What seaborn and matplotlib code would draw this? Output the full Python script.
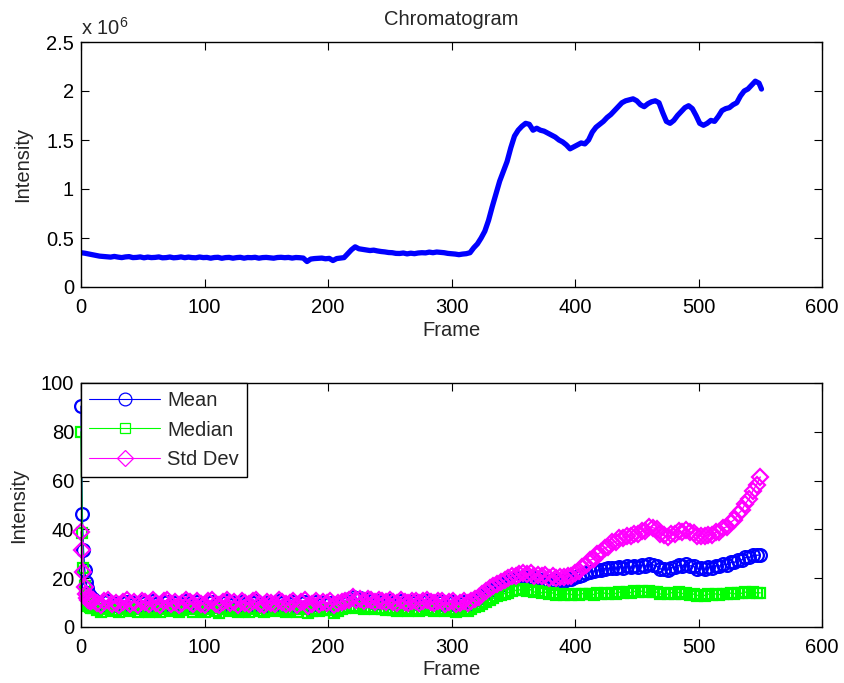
import numpy as np
import pandas as pd
import matplotlib
matplotlib.use("Agg")
import matplotlib.pyplot as plt
from matplotlib.ticker import FuncFormatter
import seaborn as sns

# ---------------- data ----------------
# Top: chromatogram intensity (units of 1e6), frames every 3
chrom_frames = list(range(0, 550, 3)) + [551]
chrom_values = [
    0.350, 0.345, 0.338, 0.330, 0.322, 0.315, 0.312, 0.308, 0.305, 0.312,   # 0-27
    0.305, 0.300, 0.307, 0.310, 0.300, 0.302, 0.307, 0.298, 0.305, 0.300,   # 30-57
    0.302, 0.307, 0.298, 0.300, 0.306, 0.298, 0.301, 0.307, 0.299, 0.305,   # 60-87
    0.300, 0.298, 0.306, 0.300, 0.302, 0.294, 0.301, 0.303, 0.293, 0.300,   # 90-117
    0.302, 0.294, 0.300, 0.303, 0.294, 0.301, 0.299, 0.303, 0.294, 0.300,   # 120-147
    0.302, 0.298, 0.294, 0.301, 0.303, 0.299, 0.302, 0.295, 0.301, 0.299,   # 150-177
    0.295, 0.260, 0.285, 0.290, 0.292, 0.295, 0.288, 0.292, 0.270, 0.290,   # 180-207
    0.295, 0.300, 0.340, 0.380, 0.410, 0.390, 0.384, 0.378, 0.372, 0.376,   # 210-237
    0.368, 0.362, 0.358, 0.352, 0.350, 0.343, 0.342, 0.347, 0.338, 0.345,   # 240-267
    0.340, 0.347, 0.350, 0.348, 0.356, 0.350, 0.357, 0.353, 0.350, 0.343,   # 270-297
    0.340, 0.336, 0.330, 0.336, 0.340, 0.350, 0.400, 0.440, 0.500, 0.570,   # 300-327
    0.680, 0.820, 0.950, 1.080, 1.180, 1.280, 1.420, 1.540, 1.600, 1.640,   # 330-357
    1.670, 1.660, 1.600, 1.620, 1.600, 1.590, 1.570, 1.550, 1.530, 1.500,   # 360-387
    1.480, 1.450, 1.410, 1.430, 1.450, 1.470, 1.460, 1.500, 1.580, 1.630,   # 390-417
    1.660, 1.690, 1.730, 1.760, 1.800, 1.840, 1.880, 1.900, 1.910, 1.920,   # 420-447
    1.900, 1.860, 1.840, 1.870, 1.890, 1.900, 1.880, 1.780, 1.690, 1.670,   # 450-477
    1.700, 1.750, 1.790, 1.830, 1.850, 1.820, 1.750, 1.670, 1.650, 1.670,   # 480-507
    1.700, 1.690, 1.740, 1.800, 1.820, 1.830, 1.860, 1.880, 1.950, 2.000,   # 510-537
    2.020, 2.060, 2.100, 2.080, 2.020,                                       # 540-551
]

# Bottom: statistics per frame
stat_frames = list(range(0, 9)) + list(range(10, 552, 3))
mean_values = [
    90.5, 46.5, 31.5, 23.5, 18.5, 16.0, 14.0, 12.8, 12.0,
    11.6, 9.3, 8.6, 10.1, 10.5, 8.9, 9.6, 8.6, 9.9, 10.4,
    9.1, 9.8, 8.7, 10.3, 9.7, 8.8, 10.5, 9.4, 8.6, 10.1,
    10.4, 9.0, 9.9, 8.7, 9.5, 10.6, 9.8, 8.8, 10.2, 9.1,
    8.8, 10.1, 10.4, 9.0, 8.6, 9.9, 10.5, 9.2, 9.7, 8.8,
    10.3, 9.5, 8.9, 10.0, 10.6, 9.0, 8.7, 9.9, 9.6, 9.0,
    10.5, 9.7, 8.9, 9.4, 10.2, 8.8, 9.9, 10.4, 8.3, 9.2,
    10.1, 9.0, 9.7, 9.4, 10.0, 8.5, 9.3, 10.0, 10.5, 11.3,
    12.5, 11.4, 11.7, 10.6, 11.3, 10.6, 10.0, 10.8, 10.2, 9.8,
    10.6, 9.9, 9.4, 10.5, 10.0, 9.3, 10.4, 10.1, 9.5, 10.3,
    10.6, 9.8, 9.5, 10.4, 10.1, 9.2, 9.9, 10.3, 9.0, 9.6,
    10.1, 9.5, 10.2, 10.9, 11.8, 12.9, 13.8, 15.0, 15.6, 16.6,
    17.1, 17.9, 18.5, 19.5, 19.6, 20.2, 20.4, 19.8, 20.3, 19.1,
    19.5, 18.8, 19.3, 18.4, 19.3, 18.5, 19.0, 18.9, 19.5, 19.7,
    20.4, 20.7, 21.5, 22.0, 22.6, 22.9, 23.3, 23.5, 23.9, 24.0,
    24.3, 24.1, 24.7, 24.3, 24.9, 24.5, 25.1, 24.7, 25.3, 25.0,
    25.7, 25.5, 25.0, 23.8, 23.6, 23.3, 24.3, 24.4, 25.3, 25.1,
    25.8, 25.1, 24.8, 23.8, 24.0, 23.6, 24.4, 24.2, 25.1, 25.0,
    25.8, 25.6, 26.5, 26.5, 27.5, 27.5, 28.5, 28.5, 29.5, 29.4,
    29.5,
]
median_values = [
    80.0, 38.5, 24.0, 17.0, 13.0, 10.5, 8.8, 8.0, 7.6,
    7.9, 7.0, 6.3, 7.4, 7.7, 6.4, 7.0, 6.1, 7.3, 7.6,
    6.6, 7.2, 6.2, 7.6, 7.1, 6.3, 7.8, 6.8, 6.0, 7.4,
    7.7, 6.5, 7.3, 6.1, 6.9, 7.8, 7.2, 6.3, 7.5, 6.6,
    6.2, 7.4, 7.7, 6.5, 5.8, 7.3, 7.8, 6.7, 7.1, 6.2,
    7.6, 6.9, 6.3, 7.4, 7.8, 6.5, 6.1, 7.3, 7.0, 6.4,
    7.8, 7.1, 6.3, 6.8, 7.5, 6.2, 7.3, 7.7, 5.8, 6.6,
    7.5, 6.4, 7.1, 6.8, 7.4, 5.8, 6.7, 7.3, 7.6, 8.1,
    8.8, 7.9, 8.2, 7.4, 8.1, 7.6, 7.2, 7.8, 7.3, 7.0,
    7.7, 7.1, 6.7, 7.6, 7.2, 6.6, 7.5, 7.2, 6.7, 7.4,
    7.7, 7.0, 6.7, 7.5, 7.2, 6.4, 7.0, 7.4, 6.2, 6.8,
    7.3, 6.7, 7.5, 8.0, 8.7, 9.5, 10.3, 11.1, 11.8, 12.6,
    13.1, 13.7, 14.1, 14.8, 15.0, 15.2, 15.5, 14.8, 15.3, 14.3,
    14.7, 14.0, 14.3, 13.5, 14.0, 13.2, 13.6, 13.2, 13.6, 13.3,
    13.7, 13.1, 13.7, 13.4, 13.7, 13.3, 13.9, 13.4, 13.9, 13.6,
    14.1, 13.7, 14.3, 14.0, 14.5, 14.1, 14.6, 14.2, 14.7, 14.2,
    14.7, 14.2, 14.3, 13.5, 13.8, 13.4, 14.1, 13.7, 14.2, 13.7,
    13.9, 13.3, 13.5, 12.9, 13.3, 12.9, 13.5, 13.1, 13.6, 13.3,
    13.7, 13.4, 13.9, 13.6, 14.1, 13.8, 14.3, 13.9, 14.4, 14.0,
    14.0,
]
std_values = [
    39.0, 31.5, 22.5, 16.5, 13.5, 12.0, 11.2, 10.8, 10.6,
    11.0, 9.7, 9.1, 10.5, 11.1, 9.4, 10.0, 9.0, 10.4, 10.9,
    9.6, 10.2, 9.2, 10.8, 10.1, 9.3, 11.0, 9.8, 9.0, 10.6,
    10.9, 9.5, 10.3, 9.1, 9.9, 11.1, 10.2, 9.3, 10.7, 9.6,
    9.2, 10.6, 10.9, 9.5, 9.0, 10.3, 11.0, 9.7, 10.1, 9.2,
    10.8, 9.9, 9.3, 10.5, 11.1, 9.5, 9.1, 10.4, 10.0, 9.4,
    11.0, 10.1, 9.3, 9.8, 10.7, 9.2, 10.4, 10.9, 8.8, 9.6,
    10.6, 9.4, 10.1, 9.8, 10.5, 8.9, 9.7, 10.4, 10.6, 11.2,
    12.1, 11.2, 11.6, 10.7, 11.5, 10.9, 10.4, 11.2, 10.6, 10.2,
    11.0, 10.3, 9.8, 10.9, 10.4, 9.7, 10.8, 10.5, 9.9, 10.7,
    11.0, 10.2, 9.9, 10.8, 10.5, 9.6, 10.3, 10.7, 9.4, 10.0,
    10.6, 9.9, 10.7, 11.6, 12.4, 13.6, 14.7, 15.8, 16.6, 17.6,
    18.3, 19.2, 19.9, 20.9, 21.1, 21.8, 22.2, 21.6, 22.3, 21.1,
    21.5, 20.7, 21.2, 20.0, 20.9, 19.9, 20.5, 20.3, 21.0, 21.1,
    22.3, 22.9, 24.5, 25.4, 27.3, 28.0, 29.8, 30.6, 32.5, 32.9,
    34.7, 35.0, 36.3, 36.5, 37.2, 37.4, 38.1, 38.2, 39.2, 39.2,
    40.8, 40.7, 40.3, 38.3, 37.6, 37.0, 38.1, 38.2, 39.2, 38.9,
    39.8, 38.8, 38.6, 37.3, 37.3, 37.1, 37.9, 37.8, 38.8, 39.0,
    40.5, 41.1, 42.9, 44.0, 46.3, 47.8, 50.6, 52.6, 55.8, 58.3,
    61.5,
]

x_ticks = [0, 100, 200, 300, 400, 500, 600]
top_y_ticks = [0, 0.5, 1, 1.5, 2, 2.5]
bottom_y_ticks = [0, 20, 40, 60, 80, 100]

# ---------------- style ----------------
FS = 14.5
sns.set_theme(style="ticks")
plt.rcParams.update({
    "font.family": ["Liberation Sans", "DejaVu Sans"],
    "font.size": FS,
    "axes.linewidth": 1.0,
    "axes.edgecolor": "black",
    "xtick.direction": "in",
    "ytick.direction": "in",
    "xtick.top": True,
    "ytick.right": True,
    "xtick.major.size": 5.5,
    "ytick.major.size": 5.5,
    "xtick.major.width": 0.8,
    "ytick.major.width": 0.8,
    "xtick.major.pad": 8.0,
    "ytick.major.pad": 5,
    "xtick.color": "black",
    "ytick.color": "black",
    "xtick.labelsize": FS,
    "ytick.labelsize": FS,
    "axes.labelsize": FS,
    "axes.titlesize": FS,
    "mathtext.fontset": "custom",
    "mathtext.rm": "Liberation Sans",
    "mathtext.it": "Liberation Sans",
})

fig = plt.figure(figsize=(8.44, 6.83), dpi=100)
ax1 = fig.add_axes([81 / 844, 1 - 287 / 683, 741 / 844, 245 / 683])
ax2 = fig.add_axes([81 / 844, 1 - 627 / 683, 741 / 844, 244 / 683])

fmt = FuncFormatter(lambda v, p: "%g" % v)

# ---- top ----
sns.lineplot(x=chrom_frames, y=chrom_values, ax=ax1, color=(0, 0, 1), lw=3.8)
ax1.set_xlim(0, 600)
ax1.set_ylim(0, 2.5)
ax1.set_xticks(x_ticks)
ax1.set_yticks(top_y_ticks)
ax1.yaxis.set_major_formatter(fmt)
ax1.set_xlabel("Frame", labelpad=3)
ax1.set_ylabel("Intensity", labelpad=10)
ax1.set_title("Chromatogram", pad=12)
ax1.text(0.0, 1.012, r"x 10$^{6}$", transform=ax1.transAxes, ha="left",
         va="bottom", fontsize=FS)

# ---- bottom ----
common = dict(ax=ax2, lw=1.0, markerfacecolor="none", markeredgewidth=1.6,
              clip_on=False)
sns.lineplot(x=stat_frames, y=mean_values, color=(0, 0, 1), marker="o",
             markersize=9.2, markeredgecolor=(0, 0, 1), label="Mean", **common)
sns.lineplot(x=stat_frames, y=median_values, color=(0, 1, 0), marker="s",
             markersize=7.8, markeredgecolor=(0, 1, 0), label="Median", **common)
sns.lineplot(x=stat_frames, y=std_values, color=(1, 0, 1), marker="D",
             markersize=8.3, markeredgecolor=(1, 0, 1), label="Std Dev", **common)
ax2.set_xlim(0, 600)
ax2.set_ylim(0, 100)
ax2.set_xticks(x_ticks)
ax2.set_yticks(bottom_y_ticks)
ax2.set_xlabel("Frame", labelpad=2)
ax2.set_ylabel("Intensity", labelpad=9)
leg = ax2.legend(loc="upper left", frameon=True, fancybox=False,
                 edgecolor="black", borderaxespad=0, handlelength=3.5,
                 labelspacing=0.5, borderpad=0.42, handletextpad=0.35,
                 fontsize=FS, framealpha=1)
leg.get_frame().set_linewidth(1.0)
leg.set_zorder(10)
for h in leg.legend_handles:
    h.set_markeredgewidth(0.9)
    h.set_linewidth(0.8)

for ax in (ax1, ax2):
    for s in ax.spines.values():
        s.set_visible(True)
        s.set_color("black")

fig.savefig("out.png", dpi=100)
